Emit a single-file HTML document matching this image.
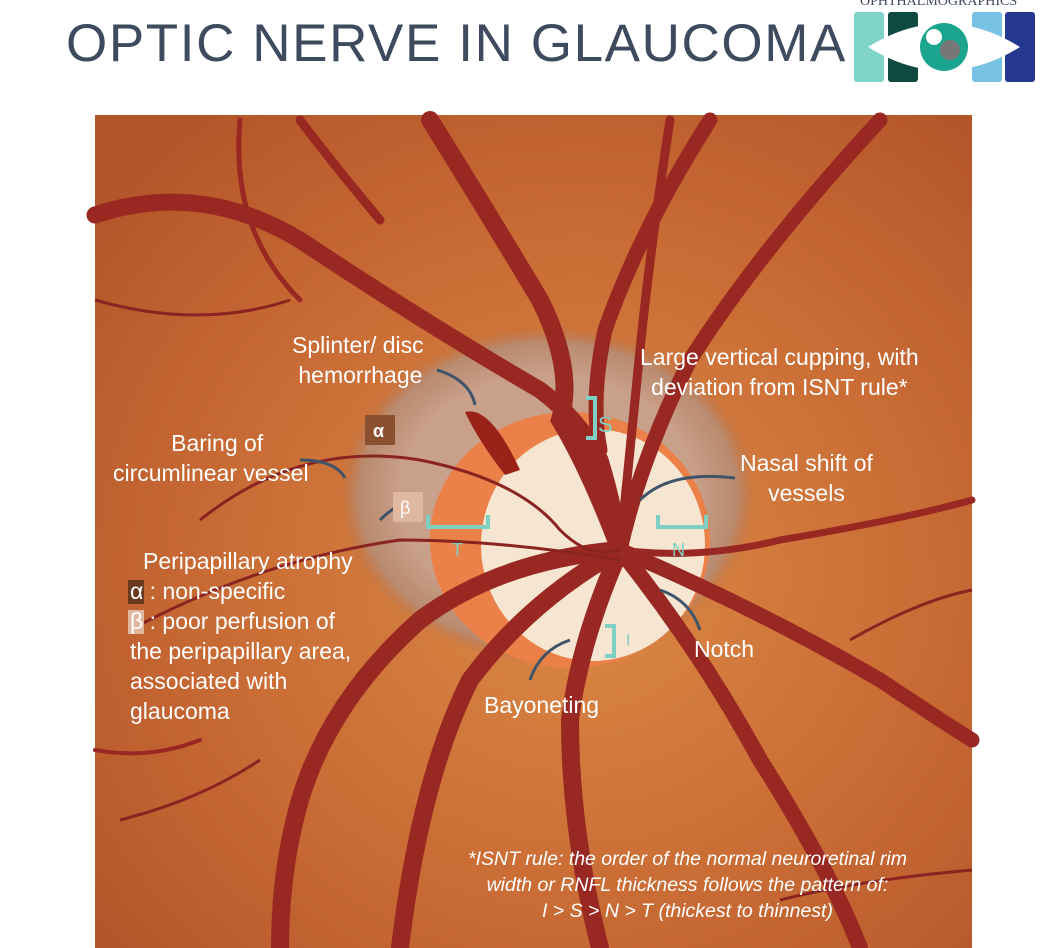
<!DOCTYPE html>
<html><head><meta charset="utf-8"><style>
body{margin:0;width:1048px;height:948px;background:#fff;overflow:hidden;position:relative;font-family:"Liberation Sans",sans-serif}
.t{position:absolute;color:#fff;font-size:23px;line-height:30px;white-space:nowrap}
</style></head><body>
<div style="position:absolute;left:66px;top:13px;font-family:'Liberation Sans',sans-serif;font-size:53px;color:#3e4b5e;letter-spacing:1.6px;white-space:nowrap">OPTIC NERVE IN GLAUCOMA</div>
<div style="position:absolute;left:860px;top:-6px;font-family:'Liberation Serif',serif;font-size:14px;color:#3e4b5e">OPHTHALMOGRAPHICS</div>
<svg style="position:absolute;left:0;top:0" width="1048" height="948">
<defs>
<radialGradient id="bg" cx="0.55" cy="0.55" r="0.7"><stop offset="0" stop-color="#dc8a46"/><stop offset="0.6" stop-color="#c86a34"/><stop offset="1" stop-color="#b4552a"/></radialGradient>
<radialGradient id="halo" cx="0.5" cy="0.5" r="0.5"><stop offset="0.7" stop-color="#c9a08a"/><stop offset="0.9" stop-color="#b98a6e"/><stop offset="1" stop-color="#c07040" stop-opacity="0"/></radialGradient>
</defs>
<rect x="854" y="12" width="30" height="70" rx="3" fill="#7fd3c8"/>
<rect x="888" y="12" width="30" height="70" rx="3" fill="#0f4a40"/>
<rect x="972" y="12" width="30" height="70" rx="3" fill="#77c2e2"/>
<rect x="1005" y="12" width="30" height="70" rx="3" fill="#25388f"/>
<path d="M868 47 Q944 0 1020 47 Q944 94 868 47Z" fill="#fff"/>
<circle cx="944" cy="47" r="24" fill="#1ba48e"/><circle cx="950" cy="50" r="10" fill="#777"/><circle cx="934" cy="37" r="8" fill="#fff"/>
<rect x="95" y="115" width="877" height="833" fill="url(#bg)"/>
<ellipse cx="548" cy="495" rx="210" ry="170" fill="url(#halo)"/>
<ellipse cx="570" cy="540" rx="140" ry="128" fill="#eb8048"/>
<ellipse cx="593" cy="545" rx="112" ry="116" fill="#f6e5d0"/>
<g fill="none" stroke="#9a2822" stroke-linecap="round">
<path d="M95 215 Q200 180 300 240 Q420 320 540 390 Q580 420 600 460 Q615 510 620 550" stroke-width="17"/>
<path d="M430 120 Q480 200 540 300 Q575 370 560 420 Q590 470 620 550" stroke-width="18"/>
<path d="M710 120 Q640 230 605 330 Q590 400 600 450" stroke-width="15"/>
<path d="M880 120 Q760 250 690 360 Q640 460 620 550" stroke-width="15"/>
<path d="M670 120 Q650 250 640 350 Q630 450 620 550" stroke-width="9"/>
<path d="M620 550 Q500 560 420 620 Q330 700 300 800 Q280 870 280 948" stroke-width="18"/>
<path d="M620 550 Q530 600 470 680 Q420 780 400 948" stroke-width="18"/>
<path d="M620 550 Q580 640 570 720 Q570 830 600 948" stroke-width="18"/>
<path d="M620 550 Q700 650 760 760 Q830 870 860 948" stroke-width="16"/>
<path d="M620 550 Q760 610 880 680 Q940 720 972 740" stroke-width="15"/>
<path d="M620 550 Q700 560 780 540 Q900 520 972 500" stroke-width="7"/>
<path d="M380 220 Q330 160 300 120" stroke-width="9"/>
<path d="M240 120 Q230 230 300 300" stroke-width="5"/>
<path d="M95 750 Q150 760 200 740" stroke-width="4"/>
</g>
<g fill="none" stroke="#8a2420" stroke-width="3">
<path d="M200 520 Q300 440 420 460 Q520 480 560 530 Q590 560 620 550"/>
<path d="M130 630 Q260 560 400 540 Q500 540 620 560"/>
<path d="M120 820 Q200 800 260 760"/>
<path d="M780 900 Q860 880 972 870"/>
<path d="M850 640 Q920 600 972 590"/>
<path d="M95 300 Q200 330 290 300"/>
</g>
<path d="M465 412 Q490 405 520 470 L505 475 Q478 440 465 412Z" fill="#9a2218"/>
<g fill="none" stroke="#7fd0c4" stroke-width="4">
<path d="M586 398 h9 v40 h-9"/><path d="M428 515 v12 h60 v-12"/><path d="M658 515 v12 h48 v-12"/><path d="M605 626 h9 v30 h-9"/>
</g>
<g fill="none" stroke="#3f5468" stroke-width="3">
<path d="M437 370 Q470 380 475 405"/><path d="M300 460 Q335 460 345 478"/><path d="M380 520 Q390 510 400 505"/><path d="M735 478 Q670 470 640 500"/><path d="M700 630 Q690 600 660 590"/><path d="M530 680 Q540 650 570 640"/>
</g>
<text x="598" y="432" fill="#7fd0c4" font-family="Liberation Sans" font-size="22">S</text>
<text x="452" y="556" fill="#7fd0c4" font-family="Liberation Sans" font-size="18">T</text>
<text x="672" y="556" fill="#7fd0c4" font-family="Liberation Sans" font-size="18">N</text>
<text x="626" y="645" fill="#7fd0c4" font-family="Liberation Sans" font-size="16">I</text>
<rect x="365" y="415" width="30" height="30" fill="#8a5030"/><text x="373" y="437" fill="#fff" font-family="Liberation Sans" font-size="18" font-weight="bold">α</text>
<rect x="393" y="492" width="30" height="30" fill="#e0b8a0"/><text x="400" y="514" fill="#fff" font-family="Liberation Sans" font-size="18">β</text>
<rect x="128" y="580" width="16" height="24" fill="#6a3a20"/>
<rect x="128" y="610" width="16" height="24" fill="#e0b8a0"/>
</svg>
<div class="t" style="left:292px;top:330px">Splinter/ disc<br>&nbsp;hemorrhage</div>
<div class="t" style="left:640px;top:342px;text-align:center">Large vertical cupping, with<br>deviation from ISNT rule*</div>
<div class="t" style="left:113px;top:428px;text-align:center">&nbsp;&nbsp;Baring of<br>circumlinear vessel</div>
<div class="t" style="left:740px;top:448px;text-align:center">Nasal shift of<br>vessels</div>
<div class="t" style="left:143px;top:546px">Peripapillary atrophy</div>
<div class="t" style="left:130px;top:576px">α : non-specific</div>
<div class="t" style="left:130px;top:606px">β : poor perfusion of<br>the peripapillary area,<br>associated with<br>glaucoma</div>
<div class="t" style="left:694px;top:634px">Notch</div>
<div class="t" style="left:484px;top:690px">Bayoneting</div>
<div class="t" style="left:468px;top:846px;font-size:19.5px;font-style:italic;line-height:26px;text-align:center">*ISNT rule: the order of the normal neuroretinal rim<br>width or RNFL thickness follows the pattern of:<br>I &gt; S &gt; N &gt; T (thickest to thinnest)</div>
</body></html>
